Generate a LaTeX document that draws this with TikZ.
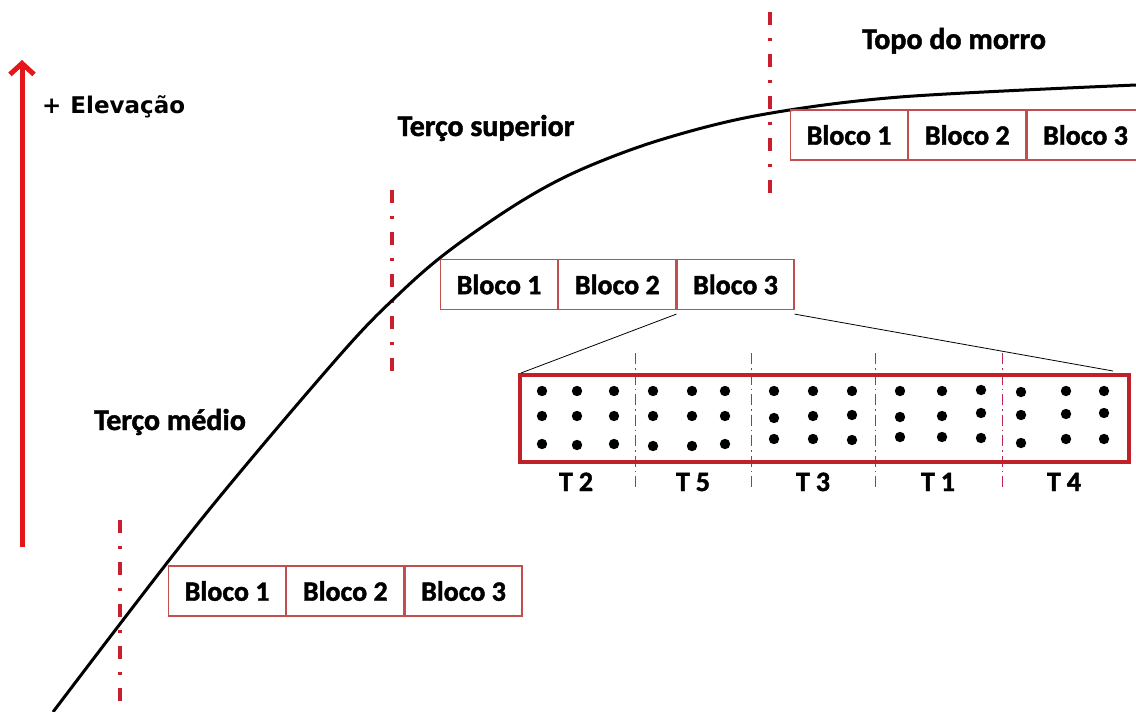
\documentclass[tikz,border=0pt]{standalone}
\usepackage{fontspec}
\setmainfont{Carlito}[BoldFeatures={FakeBold=1.5}]
\newfontfamily\elevfont{DejaVu Sans Bold}
\usetikzlibrary{arrows.meta}
\definecolor{cellred}{RGB}{192,80,77}
\definecolor{linered}{RGB}{200,30,45}
\definecolor{arrowred}{RGB}{228,22,28}
\definecolor{boxred}{RGB}{192,32,40}
\definecolor{divred}{RGB}{190,40,80}
\begin{document}
\begin{tikzpicture}[x=1pt,y=-1pt,
  cell/.style={draw=cellred, line width=1.2pt, minimum width=117pt, minimum height=50pt, inner sep=0pt, font=\bfseries\fontsize{28}{30}\selectfont, anchor=west},
  heading/.style={font=\bfseries\fontsize{30}{32}\selectfont, anchor=base, inner sep=0pt},
  tlabel/.style={font=\bfseries\fontsize{28}{30}\selectfont, anchor=base, inner sep=0pt},
  sepline/.style={linered, line width=3.5pt, dash pattern=on 13pt off 13pt on 3pt off 13pt},
  divline/.style={divred, line width=0.9pt, dash pattern=on 11pt off 4pt on 1.5pt off 4pt},
  zoomline/.style={black, line width=0.8pt},
  dot/.style={fill=black}
]
\useasboundingbox (0,0) rectangle (1136,712);
\fill[white] (0,0) rectangle (1136,712);

% elevation arrow
\coordinate (arrS) at (22,547);
\coordinate (arrE) at (22,60);
\draw[arrowred, line width=5pt, -{Straight Barb[length=11pt,width=24pt]}] (arrS) -- (arrE);
\node[anchor=base west, inner sep=0pt, font=\elevfont\fontsize{23}{26}\selectfont] (elev) at (42,113) {+\hspace{9pt}Elevação};

% section separators
\draw[sepline] (120,520) -- (120,706);
\draw[sepline] (392,190) -- (392,382);
\draw[sepline] (770,12) -- (770,202);

% hill profile
\draw[line width=3pt] plot[smooth, tension=0.55] coordinates {(53,712) (200,521) (340,355) (400,293) (450,250) (520,202) (580,170) (660,140) (760,115) (900,97) (1136,85)};

% headings
\node[heading] (topo) at (954,49) {Topo do morro};
\node[heading] (sup) at (486,136) {Terço superior};
\node[heading] (med) at (170,430) {Terço médio};

% blocks
\node[cell] (a1) at (168,591) {Bloco 1};
\node[cell] (a2) at (a1.east) {Bloco 2};
\node[cell] (a3) at (a2.east) {Bloco 3};
\node[cell] (b1) at (440,284.5) {Bloco 1};
\node[cell] (b2) at (b1.east) {Bloco 2};
\node[cell] (b3) at (b2.east) {Bloco 3};
\node[cell] (c1) at (790,135) {Bloco 1};
\node[cell] (c2) at (c1.east) {Bloco 2};
\node[cell] (c3) at (c2.east) {Bloco 3};

% expanded block
\foreach \x in {635,751,875,1002} \draw[divline] (\x,353) -- (\x,490);
\node[draw=boxred, line width=4pt, minimum width=609pt, minimum height=87pt, inner sep=0pt, anchor=north west] (big) at (518,373) {};
\coordinate (bigR) at (1113,371);
\draw[zoomline] ([yshift=-4pt]b3.south west) -- ([xshift=3pt]big.north west);
\draw[zoomline] ([yshift=-4pt]b3.south east) -- (bigR);

% plants
\foreach \x/\y in {
 542/391,577/391,614/391, 542/416,577/416,614/416, 542/444,577/445,614/444,
 653/391,692/391,725/391, 653/416,692/416,725/416, 653/446,692/446,725/444,
 774/391,813/391,852/391, 774/418,813/416,852/415, 774/439,813/439,852/440,
 900/391,942/391,981/390, 900/417,942/416,981/413, 900/437,942/437,981/438,
 1021/392,1066/391,1104/391, 1021/415,1066/414,1104/413, 1021/443,1066/439,1104/439}
  \fill[dot] (\x,\y) circle (5.2pt);

% treatment labels
\node[tlabel] (t2) at (576,491) {T\hspace{6pt}2};
\node[tlabel] (t5) at (693,491) {T\hspace{6pt}5};
\node[tlabel] (t3) at (813,491) {T\hspace{6pt}3};
\node[tlabel] (t1) at (938,491) {T\hspace{6pt}1};
\node[tlabel] (t4) at (1064,491) {T\hspace{6pt}4};
\end{tikzpicture}
\end{document}
